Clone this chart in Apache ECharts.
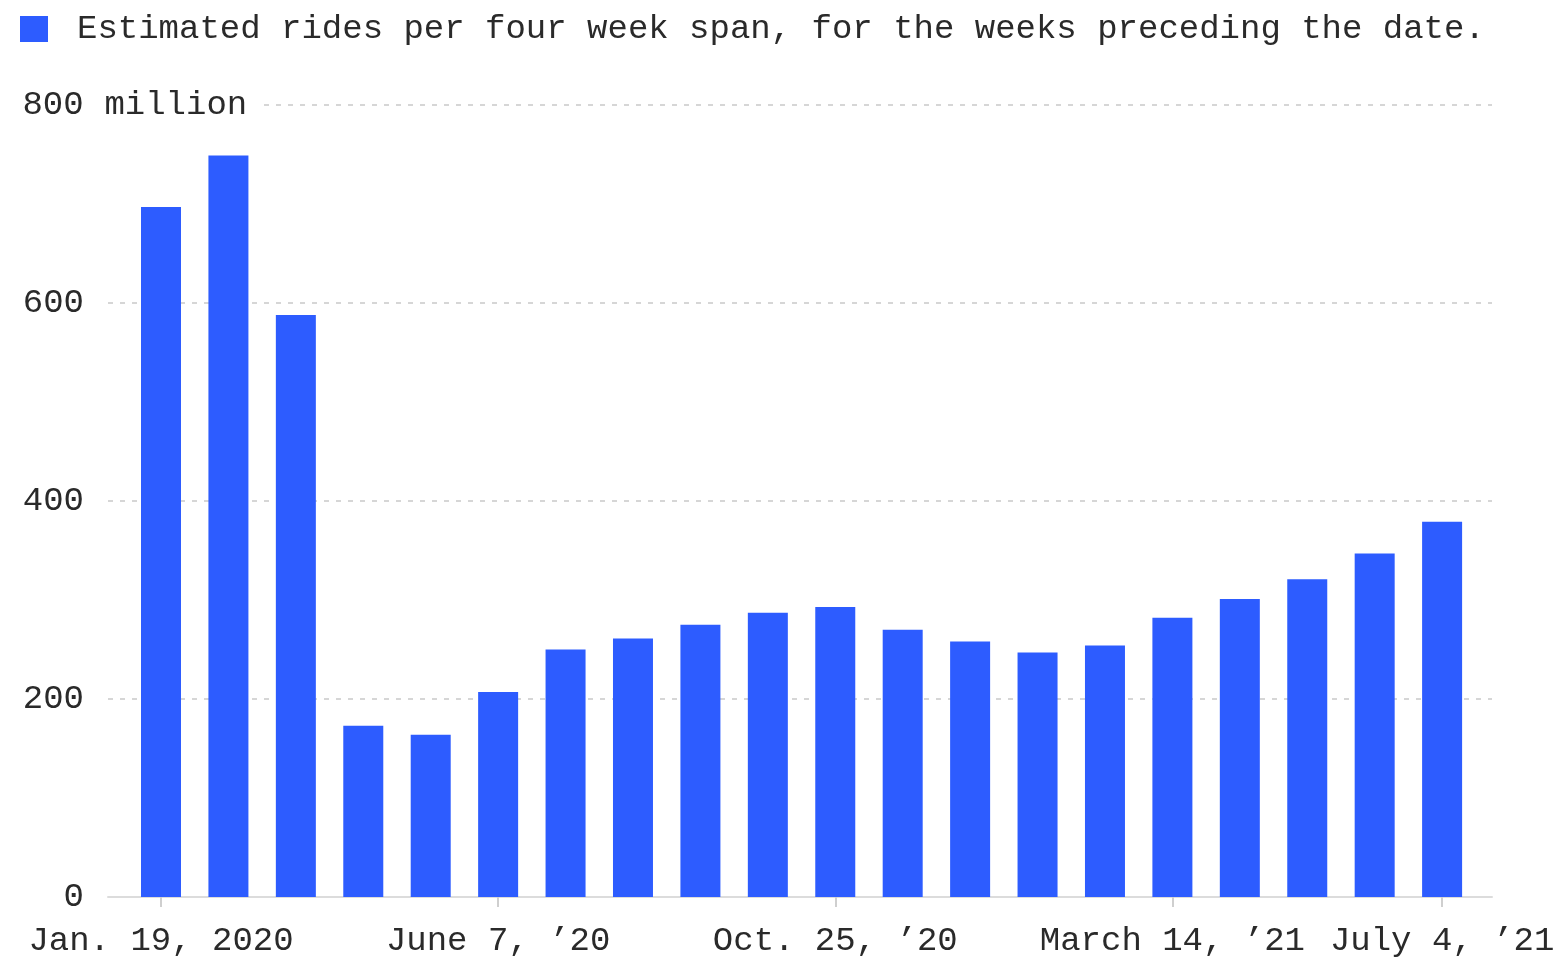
<!DOCTYPE html>
<html>
<head>
<meta charset="utf-8">
<script src="https://cdn.jsdelivr.net/npm/echarts@6/dist/echarts.min.js"></script>
<style>
html,body{margin:0;padding:0;background:#fff;}
#chart{width:1560px;height:959px;}
</style>
</head>
<body>
<div id="chart"></div>
<script>
// Period end dates (four-week spans)
const categories = [
  "Jan. 19, 2020","Feb. 16, 2020","March 15, 2020","April 12, 2020","May 10, 2020",
  "June 7, 2020","July 5, 2020","Aug. 2, 2020","Aug. 30, 2020","Sept. 27, 2020",
  "Oct. 25, 2020","Nov. 22, 2020","Dec. 20, 2020","Jan. 17, 2021","Feb. 14, 2021",
  "March 14, 2021","April 11, 2021","May 9, 2021","June 6, 2021","July 4, 2021"
];
// Estimated rides (millions) per four-week span
const rides = [697, 749, 588, 173, 164, 207, 250, 261, 275, 287, 293, 270, 258, 247, 254, 282, 301, 321, 347, 379];
// X tick positions (category indices) and their labels
const xTickIndex = [0, 5, 10, 15, 19];
const xTickLabels = ["Jan. 19, 2020", "June 7, \u201920", "Oct. 25, \u201920", "March 14, \u201921", "July 4, \u201921"];
// Y ticks
const yTicks = [0, 200, 400, 600, 800];
const seriesName = "Estimated rides per four week span, for the weeks preceding the date.";

const FONT = '"Liberation Mono", "DejaVu Sans Mono", monospace';
const chart = echarts.init(document.getElementById('chart'), null, {renderer: 'canvas'});

const option = {
  animation: false,
  backgroundColor: '#fff',
  legend: {
    show: true,
    left: 15,
    top: 7,
    itemWidth: 28,
    itemHeight: 26,
    icon: 'rect',
    data: [seriesName],
    textStyle: {fontFamily: FONT, fontSize: 34, color: '#2a2a2a', padding: [0, 0, 0, 24]}
  },
  grid: {left: 108, right: 68, top: 105, bottom: 62, containLabel: false},
  xAxis: {
    type: 'value',
    min: -0.786,
    max: 19.74,
    splitLine: {show: false},
    axisLine: {show: true, lineStyle: {color: '#dcdcdc', width: 2}},
    axisTick: {show: true, customValues: xTickIndex, length: 10, lineStyle: {color: '#cfcfcf', width: 2}},
    axisLabel: {
      customValues: xTickIndex,
      margin: 27,
      fontFamily: FONT, fontSize: 34, color: '#2a2a2a',
      formatter: function (v) {
        const k = xTickIndex.indexOf(Math.round(v));
        return k >= 0 ? xTickLabels[k] : '';
      }
    }
  },
  yAxis: {
    type: 'value',
    min: 0,
    max: 800,
    interval: 200,
    axisLine: {show: false},
    axisTick: {show: false},
    splitLine: {show: true, lineStyle: {color: '#d6d6d6', width: 2, type: [5, 7]}},
    axisLabel: {
      align: 'left',
      margin: 86,
      fontFamily: FONT, fontSize: 34, color: '#2a2a2a',
      formatter: function (v) {
        return v === yTicks[yTicks.length - 1] ? '{n|' + v + '}{m| million}' : '{n|' + v + '}';
      },
      rich: {
        n: {width: 62, align: 'right', fontFamily: FONT, fontSize: 34, color: '#2a2a2a', backgroundColor: '#fff'},
        m: {fontFamily: FONT, fontSize: 34, color: '#2a2a2a', backgroundColor: '#fff', padding: [0, 12, 0, 0]}
      }
    }
  },
  series: [{
    name: seriesName,
    type: 'bar',
    barWidth: 40,
    itemStyle: {color: '#2d5cff'},
    data: rides.map(function (v, i) { return [i, v]; })
  }]
};
chart.setOption(option);
</script>
</body>
</html>
